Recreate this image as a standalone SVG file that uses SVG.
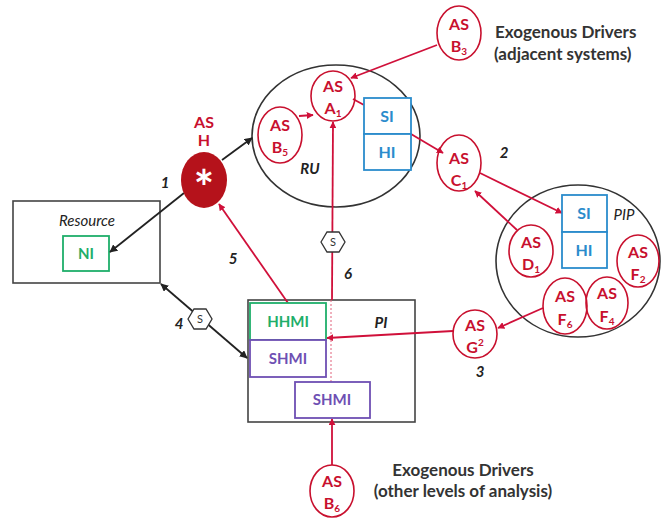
<svg xmlns="http://www.w3.org/2000/svg" width="661" height="520" viewBox="0 0 661 520">
<defs>
<style>
text{font-family:Lato,"Liberation Sans",sans-serif;font-weight:bold;}
.as{fill:#c8102e;font-size:16px;text-anchor:middle;}
.sub{font-size:10px;}
.c{fill:none;stroke:#c8102e;stroke-width:1.6;}
.blk{fill:none;stroke:#333;stroke-width:1.6;}
.box{fill:#fff;stroke:#444;stroke-width:1.6;}
.blue{fill:#fff;stroke:#2b8ccc;stroke-width:1.8;}
.bt{fill:#2b8ccc;font-size:16px;text-anchor:middle;}
.green{fill:#fff;stroke:#1fae6a;stroke-width:1.8;}
.gt{fill:#1fae6a;font-size:15px;text-anchor:middle;}
.purp{fill:#fff;stroke:#6e4fb3;stroke-width:1.8;}
.pt{fill:#6e4fb3;font-size:15px;text-anchor:middle;}
.lab{fill:#222;font-size:15px;font-style:italic;text-anchor:middle;}
.nw{font-weight:normal;}
.ex{fill:#333;font-size:17px;}
.rl{fill:none;stroke:#d0103a;stroke-width:1.8;}
.bl{fill:none;stroke:#222;stroke-width:1.8;}
.hex{fill:#fff;stroke:#333;stroke-width:1.3;}
.ht{fill:#333;font-size:11px;font-weight:normal;text-anchor:middle;}
</style>
<marker id="ra" viewBox="0 0 10 10" refX="9" refY="5" markerWidth="7" markerHeight="7" orient="auto-start-reverse" markerUnits="userSpaceOnUse"><path d="M0,0 L10,5 L0,10 z" fill="#d0103a"/></marker>
<marker id="ba" viewBox="0 0 10 10" refX="9" refY="5" markerWidth="8" markerHeight="8" orient="auto-start-reverse" markerUnits="userSpaceOnUse"><path d="M0,0 L10,5 L0,10 z" fill="#222"/></marker>
</defs>
<rect width="661" height="520" fill="#fff"/>

<g id="RU">
<ellipse cx="336" cy="136" rx="84" ry="71" class="blk"/>
<text x="310" y="174" class="lab">RU</text>
</g>
<g id="PIP">
<ellipse cx="578" cy="261" rx="82" ry="76" class="blk"/>
<text x="624" y="220" class="lab nw">PIP</text>
</g>
<g id="Resource">
<rect x="13" y="201" width="147" height="82" class="box"/>
<text x="87" y="226" class="lab nw">Resource</text>
</g>
<g id="NI">
<rect x="63" y="236" width="46" height="35" class="green"/>
<text x="86" y="259" class="gt">NI</text>
</g>
<g id="PI">
<rect x="248" y="300" width="167" height="122" class="box"/>
<text x="381" y="328" class="lab">PI</text>
</g>

<g id="connectors">
<line x1="222" y1="160" x2="252" y2="138" class="bl" marker-end="url(#ba)"/>
<line x1="184" y1="193" x2="110" y2="252" class="bl" marker-end="url(#ba)"/>
<line x1="161" y1="284" x2="247" y2="358" class="bl" marker-start="url(#ba)" marker-end="url(#ba)"/>
<line x1="288" y1="303" x2="219" y2="204" class="rl" marker-end="url(#ra)"/>
<line x1="332" y1="300" x2="333" y2="122" class="rl" marker-end="url(#ra)"/>
<line x1="331" y1="300" x2="331" y2="382" stroke="#e0607a" stroke-width="1" stroke-dasharray="2,2"/>
<line x1="332" y1="465" x2="332" y2="419" class="rl" marker-end="url(#ra)"/>
<line x1="453" y1="331" x2="327" y2="338" class="rl" marker-end="url(#ra)"/>
<line x1="543" y1="308" x2="498" y2="328" class="rl" marker-end="url(#ra)"/>
<line x1="517" y1="230" x2="475" y2="191" class="rl" marker-end="url(#ra)"/>
<line x1="480" y1="173" x2="562" y2="213" class="rl" marker-end="url(#ra)"/>
<line x1="411" y1="134" x2="443" y2="153" class="rl" marker-end="url(#ra)"/>
<line x1="437" y1="45" x2="351" y2="78" class="rl" marker-end="url(#ra)"/>
<line x1="299" y1="116" x2="313" y2="115" class="rl" marker-end="url(#ra)"/>
<line x1="353" y1="99" x2="364" y2="105" class="rl"/>
<polygon points="188,319 194,309 206,309 212,319 206,329 194,329" class="hex"/>
<text x="200" y="323" class="ht">S</text>
<polygon points="321,242 327,232 339,232 345,242 339,252 327,252" class="hex"/>
<text x="333" y="246" class="ht">S</text>
<text x="165" y="188" class="lab">1</text>
<text x="233" y="264" class="lab">5</text>
<text x="348" y="279" class="lab">6</text>
<text x="179" y="329" class="lab">4</text>
<text x="504" y="158" class="lab">2</text>
<text x="480" y="377" class="lab">3</text>
</g>

<g id="HHMI">
<rect x="250" y="303" width="76" height="37" class="green"/>
<text x="288" y="327" class="gt">HHMI</text>
</g>
<g id="SHMI1">
<rect x="250" y="340" width="76" height="37" class="purp"/>
<text x="288" y="364" class="pt">SHMI</text>
</g>
<g id="SHMI2">
<rect x="295" y="382" width="75" height="36" class="purp"/>
<text x="332" y="405" class="pt">SHMI</text>
</g>

<g id="SIHI_RU">
<rect x="364" y="98" width="47" height="36" class="blue"/>
<rect x="364" y="134" width="47" height="36" class="blue"/>
<text x="387" y="122" class="bt">SI</text>
<text x="387" y="158" class="bt">HI</text>
</g>
<g id="SIHI_PIP">
<rect x="562" y="195" width="45" height="37" class="blue"/>
<rect x="562" y="232" width="45" height="36" class="blue"/>
<text x="584" y="219" class="bt">SI</text>
<text x="584" y="256" class="bt">HI</text>
</g>

<g id="AS_H">
<text x="204" y="128" class="as" font-size="14">AS</text>
<text x="204" y="146" class="as" font-size="14">H</text>
<ellipse cx="204" cy="180" rx="23" ry="28" fill="#b5121b"/>
<text x="204" y="205" fill="#fff" font-size="48" text-anchor="middle">*</text>
</g>
<g id="AS_A1">
<ellipse cx="333" cy="96" rx="22" ry="25" class="c"/>
<text x="333" y="92" class="as">AS</text>
<text x="333" y="114" class="as">A<tspan class="sub" dy="3">1</tspan></text>
</g>
<g id="AS_B5">
<ellipse cx="280" cy="135" rx="22" ry="28" class="c"/>
<text x="280" y="131" class="as">AS</text>
<text x="280" y="153" class="as">B<tspan class="sub" dy="3">5</tspan></text>
</g>
<g id="AS_B3">
<ellipse cx="459" cy="33" rx="22" ry="27" class="c"/>
<text x="459" y="30" class="as">AS</text>
<text x="459" y="52" class="as">B<tspan class="sub" dy="3">3</tspan></text>
</g>
<g id="AS_C1">
<ellipse cx="459" cy="163" rx="22" ry="28" class="c"/>
<text x="459" y="164" class="as">AS</text>
<text x="459" y="186" class="as">C<tspan class="sub" dy="3">1</tspan></text>
</g>
<g id="AS_D1">
<ellipse cx="531" cy="251" rx="22" ry="26" class="c"/>
<text x="531" y="248" class="as">AS</text>
<text x="531" y="270" class="as">D<tspan class="sub" dy="3">1</tspan></text>
</g>
<g id="AS_F2">
<ellipse cx="638" cy="261" rx="21" ry="26" class="c"/>
<text x="638" y="258" class="as">AS</text>
<text x="638" y="280" class="as">F<tspan class="sub" dy="3">2</tspan></text>
</g>
<g id="AS_F6">
<ellipse cx="565" cy="306" rx="22" ry="28" class="c"/>
<text x="565" y="302" class="as">AS</text>
<text x="565" y="325" class="as">F<tspan class="sub" dy="3">6</tspan></text>
</g>
<g id="AS_F4">
<ellipse cx="607" cy="303" rx="21" ry="26" class="c"/>
<text x="607" y="299" class="as">AS</text>
<text x="607" y="322" class="as">F<tspan class="sub" dy="3">4</tspan></text>
</g>
<g id="AS_G2">
<ellipse cx="475" cy="334" rx="22" ry="24" class="c"/>
<text x="475" y="331" class="as">AS</text>
<text x="475" y="353" class="as">G<tspan class="sub" dy="-7">2</tspan></text>
</g>
<g id="AS_B6">
<ellipse cx="332" cy="491" rx="22" ry="26" class="c"/>
<text x="332" y="487" class="as">AS</text>
<text x="332" y="509" class="as">B<tspan class="sub" dy="3">6</tspan></text>
</g>

<g id="ExoTop">
<text x="495" y="38" class="ex">Exogenous Drivers</text>
<text x="494" y="60" class="ex">(adjacent systems)</text>
</g>
<g id="ExoBottom">
<text x="463" y="476" class="ex" text-anchor="middle">Exogenous Drivers</text>
<text x="463" y="497" class="ex" text-anchor="middle">(other levels of analysis)</text>
</g>
</svg>
